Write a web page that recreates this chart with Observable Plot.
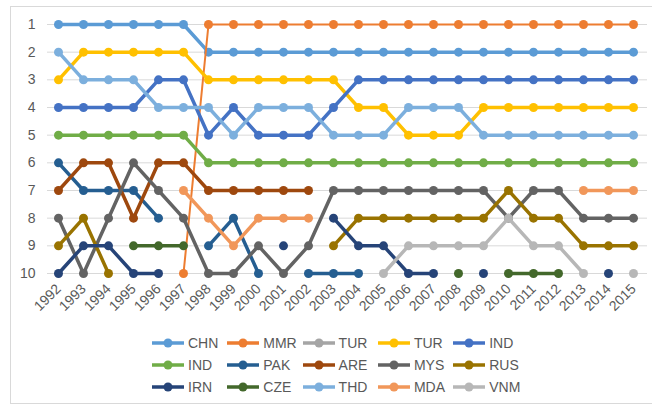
<!DOCTYPE html>
<html>
<head>
<meta charset="utf-8">
<script src="https://cdn.jsdelivr.net/npm/d3@7"></script>
<script src="https://cdn.jsdelivr.net/npm/@observablehq/plot@0.6"></script>
<style>
  body { margin: 0; background: #fff; font-family: "Liberation Sans", Arial, Helvetica, sans-serif; }
  #wrap { position: relative; width: 652px; height: 406px; overflow: hidden; }
  #frame { position: absolute; left: 10px; top: 6px; width: 680px; height: 398px; border: 1px solid #d9d9d9; box-sizing: border-box; }
  #chart { position: absolute; left: 0; top: 0; }
  #legend { position: absolute; left: 152px; top: 332px; }
  .row { display: flex; height: 22px; align-items: center; }
  .item { width: 75.3px; display: flex; align-items: center; font-size: 14px; color: #595959; white-space: nowrap; }
  .item svg { margin-right: 4px; flex: none; }
</style>
</head>
<body>
<div id="wrap">
  <div id="frame"></div>
  <div id="chart"></div>
  <div id="legend"></div>
</div>
<script>
// Ranking positions (1 = top) per year; null where a country is outside the top 10
const years = [1992, 1993, 1994, 1995, 1996, 1997, 1998, 1999, 2000, 2001, 2002, 2003,
               2004, 2005, 2006, 2007, 2008, 2009, 2010, 2011, 2012, 2013, 2014, 2015];
const rankTicks = [1, 2, 3, 4, 5, 6, 7, 8, 9, 10];
const n = null;

const seriesNames = ["CHN", "MMR", "TUR", "TUR", "IND", "IND", "PAK", "ARE", "MYS", "RUS", "IRN", "CZE", "THD", "MDA", "VNM"];

const chn    = [1, 1, 1, 1, 1, 1, 2, 2, 2, 2, 2, 2, 2, 2, 2, 2, 2, 2, 2, 2, 2, 2, 2, 2];
const mmr    = [n, n, n, n, n, 10, 1, 1, 1, 1, 1, 1, 1, 1, 1, 1, 1, 1, 1, 1, 1, 1, 1, 1];
const turA   = [n, n, n, n, n, n, n, n, n, n, n, n, n, n, n, n, n, n, n, n, n, n, n, n];
const turB   = [3, 2, 2, 2, 2, 2, 3, 3, 3, 3, 3, 3, 4, 4, 5, 5, 5, 4, 4, 4, 4, 4, 4, 4];
const indA   = [4, 4, 4, 4, 3, 3, 5, 4, 5, 5, 5, 4, 3, 3, 3, 3, 3, 3, 3, 3, 3, 3, 3, 3];
const indB   = [5, 5, 5, 5, 5, 5, 6, 6, 6, 6, 6, 6, 6, 6, 6, 6, 6, 6, 6, 6, 6, 6, 6, 6];
const pak    = [6, 7, 7, 7, 8, n, 9, 8, 10, n, 10, 10, 10, n, n, n, n, n, n, n, n, n, n, n];
const are    = [7, 6, 6, 8, 6, 6, 7, 7, 7, 7, 7, n, n, n, n, n, n, n, n, n, n, n, n, n];
const mys    = [8, 10, 8, 6, 7, 8, 10, 10, 9, 10, 9, 7, 7, 7, 7, 7, 7, 7, 8, 7, 7, 8, 8, 8];
const rus    = [9, 8, 10, n, n, n, n, n, n, n, n, 9, 8, 8, 8, 8, 8, 8, 7, 8, 8, 9, 9, 9];
const irn    = [10, 9, 9, 10, 10, n, n, n, n, 9, n, 8, 9, 9, 10, 10, n, 10, n, n, n, n, 10, n];
const cze    = [n, n, n, 9, 9, 9, n, n, n, n, n, n, n, n, n, n, 10, n, 10, 10, 10, n, n, n];
const thd    = [2, 3, 3, 3, 4, 4, 4, 5, 4, 4, 4, 5, 5, 5, 4, 4, 4, 5, 5, 5, 5, 5, 5, 5];
const mda    = [n, n, n, n, n, 7, 8, 9, 8, 8, 8, n, n, n, n, n, n, n, n, n, n, 7, 7, 7];
const vnm    = [n, n, n, n, n, n, n, n, n, n, n, n, n, 10, 9, 9, 9, 9, 8, 9, 9, 10, n, 10];

const seriesRanks = [chn, mmr, turA, turB, indA, indB, pak, are, mys, rus, irn, cze, thd, mda, vnm];

// Styling
const colors = ["#5B9BD5", "#ED7D31", "#A5A5A5", "#FFC000", "#4472C4", "#70AD47", "#255E91",
                "#9E480E", "#636363", "#997300", "#264478", "#43682B", "#7CAFDD", "#F1975A", "#B7B7B7"];
const lineWidths = [3.5, 2, 3.5, 3.5, 3.5, 3.5, 3.5, 3.5, 3.5, 3.5, 3.5, 3.5, 3.5, 3.5, 3.5];

const rows = seriesRanks.flatMap((vals, i) =>
  vals.map((rank, j) => ({ s: i, year: years[j], rank })));

const marks = [
  Plot.ruleY(rankTicks, { stroke: "#d9d9d9", strokeWidth: 1, insetLeft: -11, insetRight: -14 })
];
seriesRanks.forEach((vals, i) => {
  const d = rows.filter(r => r.s === i);
  marks.push(Plot.line(d, { x: "year", y: "rank", stroke: colors[i], strokeWidth: lineWidths[i] }));
  marks.push(Plot.dot(d.filter(r => r.rank != null), { x: "year", y: "rank", fill: colors[i], r: 4.5 }));
});
marks.push(Plot.axisY(rankTicks, { tickSize: 0, tickPadding: 23, fontSize: 14, fill: "#595959", label: null }));
marks.push(Plot.axisX(years, { tickSize: 0, tickPadding: 13, tickRotate: -45, fontSize: 14, fill: "#595959", label: null, tickFormat: d => String(d) }));

const chart = Plot.plot({
  width: 652,
  height: 330,
  marginTop: 24,
  marginBottom: 57,
  marginLeft: 58,
  marginRight: 19,
  style: { background: "transparent", fontFamily: "'Liberation Sans', Arial, sans-serif", overflow: "visible" },
  x: { domain: [1992, 2015] },
  y: { domain: [1, 10], reverse: true },
  marks
});
document.getElementById("chart").appendChild(chart);

// Legend: 3 rows of 5 entries
const legend = d3.select("#legend");
for (let r = 0; r < 3; r++) {
  const row = legend.append("div").attr("class", "row");
  for (let c = 0; c < 5; c++) {
    const i = r * 5 + c;
    const item = row.append("div").attr("class", "item");
    const sw = item.append("svg").attr("width", 32).attr("height", 12);
    sw.append("line").attr("x1", 0).attr("x2", 32).attr("y1", 6).attr("y2", 6)
      .attr("stroke", colors[i]).attr("stroke-width", 3.5);
    sw.append("circle").attr("cx", 16).attr("cy", 6).attr("r", 4.5).attr("fill", colors[i]);
    item.append("span").text(seriesNames[i]);
  }
}
</script>
</body>
</html>
